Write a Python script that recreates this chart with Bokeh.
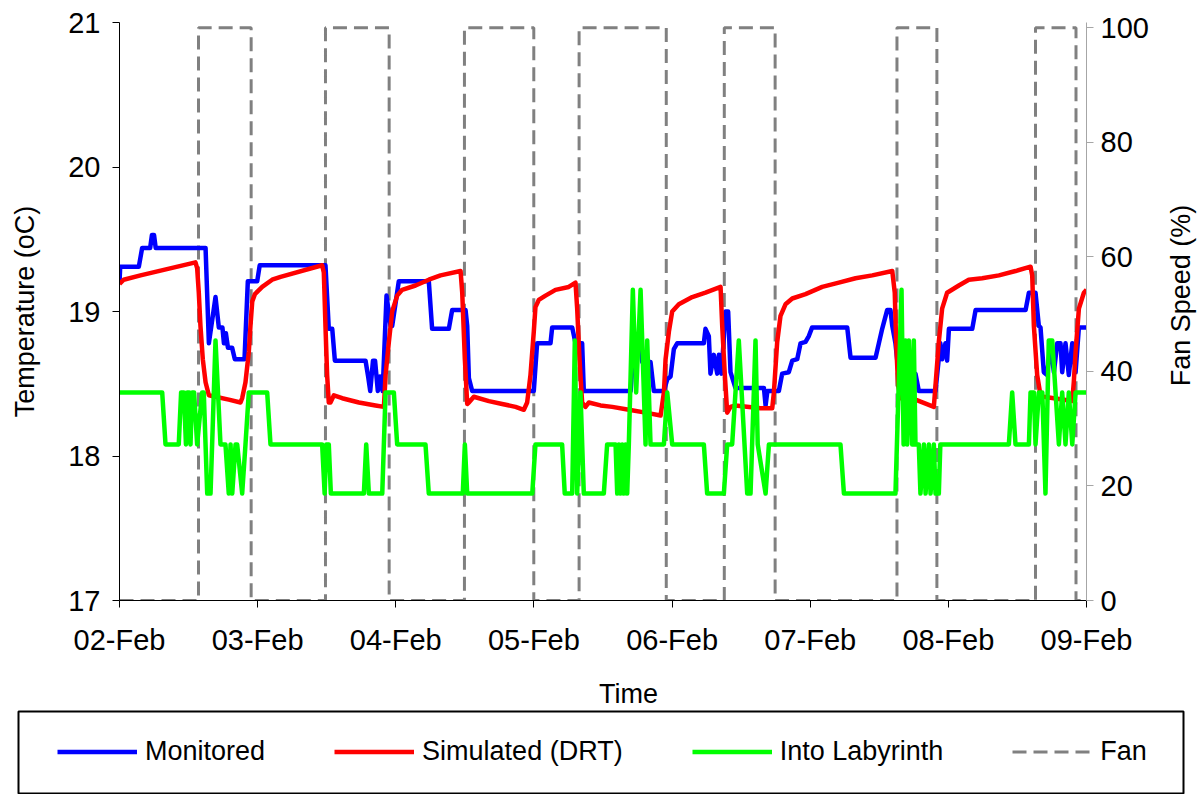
import math
from bokeh.plotting import figure
from bokeh.models import Range1d, LinearAxis, FixedTicker, Legend, LegendItem, Label
from bokeh.layouts import column, row
from bokeh.embed import file_html
from bokeh.resources import INLINE

# ---------------- data (time in days after 02-Feb 00:00) ----------------
day_ticks = [0, 1, 2, 3, 4, 5, 6, 7]
day_labels = ["02-Feb", "03-Feb", "04-Feb", "05-Feb", "06-Feb", "07-Feb", "08-Feb", "09-Feb"]
temp_ticks = [17, 18, 19, 20, 21]
fan_ticks = [0, 20, 40, 60, 80, 100]

monitored = [(0.000, 19.20), (0.005, 19.31), (0.140, 19.31), (0.164, 19.44), (0.222, 19.44), (0.235, 19.53),
             (0.250, 19.53), (0.262, 19.44), (0.623, 19.44), (0.647, 18.78), (0.695, 19.10), (0.719, 18.89),
             (0.745, 18.89), (0.756, 18.78), (0.770, 18.85), (0.785, 18.75), (0.815, 18.75), (0.835, 18.67),
             (0.905, 18.67), (0.929, 19.21), (0.997, 19.21), (1.015, 19.32), (1.491, 19.32), (1.515, 18.88),
             (1.540, 18.88), (1.559, 18.66), (1.781, 18.66), (1.800, 18.55), (1.815, 18.45), (1.835, 18.66),
             (1.850, 18.66), (1.870, 18.45), (1.885, 18.55), (1.905, 18.45), (1.933, 19.11), (1.962, 18.90),
             (1.974, 18.90), (2.022, 19.21), (2.239, 19.21), (2.263, 18.88), (2.384, 18.88), (2.408, 19.01),
             (2.505, 19.01), (2.517, 18.90), (2.529, 18.54), (2.553, 18.45), (2.999, 18.45), (3.023, 18.78),
             (3.120, 18.78), (3.132, 18.89), (3.277, 18.89), (3.301, 18.78), (3.349, 18.78), (3.361, 18.45),
             (3.700, 18.45), (3.716, 18.67), (3.747, 18.79), (3.772, 18.79), (3.784, 18.65), (3.844, 18.65),
             (3.868, 18.45), (3.941, 18.45), (3.965, 18.53), (3.989, 18.55), (4.013, 18.74), (4.037, 18.78),
             (4.230, 18.78), (4.242, 18.88), (4.266, 18.83), (4.278, 18.57), (4.302, 18.70), (4.327, 18.57),
             (4.339, 18.70), (4.358, 18.57), (4.387, 19.00), (4.406, 19.00), (4.423, 18.58), (4.459, 18.47),
             (4.665, 18.47), (4.677, 18.35), (4.690, 18.45), (4.773, 18.45), (4.797, 18.57), (4.845, 18.58),
             (4.870, 18.66), (4.906, 18.67), (4.930, 18.78), (4.966, 18.79), (4.990, 18.83), (5.014, 18.89),
             (5.268, 18.89), (5.292, 18.68), (5.473, 18.68), (5.497, 18.78), (5.521, 18.88), (5.557, 19.01),
             (5.581, 19.01), (5.594, 18.90), (5.617, 18.78), (5.640, 18.57), (5.762, 18.57), (5.786, 18.45),
             (5.907, 18.45), (5.942, 18.78), (5.955, 18.67), (5.979, 18.78), (5.991, 18.66), (6.004, 18.88),
             (6.173, 18.88), (6.197, 19.01), (6.559, 19.01), (6.583, 19.13), (6.631, 19.13), (6.655, 18.90),
             (6.667, 18.89), (6.691, 18.58), (6.715, 18.56), (6.739, 18.78), (6.764, 18.58), (6.788, 18.78),
             (6.812, 18.78), (6.824, 18.58), (6.848, 18.78), (6.872, 18.56), (6.897, 18.78), (6.921, 18.58),
             (6.945, 18.89), (7.000, 18.89)]

simulated = [(0.000, 19.19), (0.030, 19.22), (0.152, 19.25), (0.550, 19.34), (0.562, 19.30), (0.574, 19.13),
             (0.586, 18.90), (0.603, 18.67), (0.623, 18.51), (0.647, 18.42), (0.695, 18.41), (0.791, 18.39),
             (0.876, 18.37), (0.888, 18.40), (0.912, 18.51), (0.936, 18.72), (0.948, 18.90), (0.961, 19.07),
             (0.980, 19.12), (1.033, 19.17), (1.105, 19.22), (1.166, 19.24), (1.467, 19.32), (1.479, 19.27),
             (1.491, 18.90), (1.503, 18.56), (1.515, 18.37), (1.527, 18.37), (1.552, 18.42), (1.612, 18.40),
             (1.733, 18.37), (1.853, 18.35), (1.914, 18.34), (1.926, 18.56), (1.950, 18.79), (1.974, 19.00),
             (2.010, 19.11), (2.046, 19.15), (2.143, 19.18), (2.239, 19.22), (2.324, 19.25), (2.469, 19.28),
             (2.481, 19.13), (2.500, 18.67), (2.517, 18.36), (2.529, 18.37), (2.565, 18.41), (2.674, 18.38),
             (2.770, 18.36), (2.867, 18.34), (2.927, 18.32), (2.951, 18.37), (2.975, 18.56), (2.999, 18.86),
             (3.011, 19.03), (3.035, 19.08), (3.084, 19.11), (3.156, 19.15), (3.252, 19.17), (3.301, 19.20),
             (3.313, 19.02), (3.330, 18.67), (3.349, 18.37), (3.373, 18.34), (3.397, 18.37), (3.482, 18.35),
             (3.567, 18.34), (3.687, 18.32), (3.808, 18.30), (3.917, 18.28), (3.941, 18.44), (3.953, 18.67),
             (3.977, 18.86), (4.001, 19.00), (4.049, 19.05), (4.146, 19.10), (4.242, 19.13), (4.351, 19.17),
             (4.363, 18.90), (4.382, 18.56), (4.399, 18.30), (4.423, 18.34), (4.459, 18.35), (4.640, 18.33),
             (4.725, 18.33), (4.737, 18.44), (4.761, 18.79), (4.785, 18.97), (4.821, 19.05), (4.870, 19.09),
             (4.966, 19.12), (5.087, 19.17), (5.207, 19.20), (5.328, 19.23), (5.449, 19.25), (5.594, 19.28),
             (5.612, 19.13), (5.622, 18.79), (5.636, 18.49), (5.654, 18.40), (5.762, 18.39), (5.895, 18.34),
             (5.907, 18.49), (5.931, 18.79), (5.955, 19.02), (5.991, 19.13), (6.076, 19.18), (6.148, 19.22),
             (6.245, 19.23), (6.366, 19.25), (6.486, 19.28), (6.595, 19.31), (6.607, 19.25), (6.619, 18.90),
             (6.643, 18.56), (6.667, 18.42), (6.691, 18.41), (6.897, 18.38), (6.908, 18.51), (6.921, 18.72),
             (6.945, 19.02), (6.981, 19.13), (7.000, 19.15)]

into_labyrinth = [(0.000, 18.44), (0.309, 18.44), (0.333, 18.08), (0.429, 18.08), (0.446, 18.44), (0.466, 18.44),
                  (0.481, 18.08), (0.490, 18.44), (0.505, 18.44), (0.514, 18.08), (0.526, 18.44), (0.540, 18.44),
                  (0.562, 18.08), (0.598, 18.44), (0.610, 18.44), (0.635, 17.74), (0.659, 17.74), (0.695, 18.80),
                  (0.731, 18.08), (0.767, 18.08), (0.791, 17.74), (0.804, 18.08), (0.816, 17.74), (0.840, 18.08),
                  (0.852, 18.08), (0.888, 17.74), (0.912, 18.08), (0.936, 18.44), (1.069, 18.44), (1.093, 18.08),
                  (1.467, 18.08), (1.485, 17.74), (1.497, 18.08), (1.515, 18.08), (1.530, 17.74), (1.769, 17.74),
                  (1.786, 18.08), (1.805, 17.74), (1.902, 17.74), (1.926, 18.44), (1.986, 18.44), (2.010, 18.08),
                  (2.215, 18.08), (2.239, 17.74), (2.485, 17.74), (2.500, 18.08), (2.517, 17.74), (2.988, 17.74),
                  (3.011, 18.08), (3.204, 18.08), (3.223, 17.74), (3.277, 17.74), (3.296, 18.80), (3.313, 17.74),
                  (3.337, 18.44), (3.361, 17.74), (3.506, 17.74), (3.530, 18.08), (3.591, 18.08), (3.603, 17.74),
                  (3.615, 18.08), (3.627, 17.74), (3.639, 18.08), (3.651, 17.74), (3.663, 18.08), (3.675, 17.74),
                  (3.687, 18.08), (3.716, 19.15), (3.740, 18.44), (3.772, 19.15), (3.808, 18.08), (3.820, 18.80),
                  (3.844, 18.08), (3.941, 18.08), (3.965, 18.44), (4.001, 18.08), (4.230, 18.08), (4.254, 17.74),
                  (4.375, 17.74), (4.399, 18.08), (4.435, 18.08), (4.483, 18.80), (4.544, 17.74), (4.568, 17.74),
                  (4.604, 18.80), (4.620, 18.08), (4.677, 17.74), (4.701, 18.08), (5.219, 18.08), (5.244, 17.74),
                  (5.617, 17.74), (5.661, 19.15), (5.676, 18.08), (5.690, 18.80), (5.702, 18.08), (5.714, 18.80),
                  (5.738, 18.08), (5.750, 18.80), (5.762, 18.08), (5.786, 18.08), (5.798, 17.74), (5.823, 18.08),
                  (5.835, 17.74), (5.859, 18.08), (5.871, 17.74), (5.895, 18.08), (5.907, 17.74), (5.931, 17.74),
                  (5.942, 18.08), (6.438, 18.08), (6.462, 18.44), (6.486, 18.08), (6.583, 18.08), (6.595, 18.44),
                  (6.619, 18.44), (6.631, 18.08), (6.655, 18.44), (6.680, 18.44), (6.703, 17.74), (6.727, 18.80),
                  (6.752, 18.80), (6.776, 18.44), (6.800, 18.08), (6.824, 18.44), (6.848, 18.08), (6.872, 18.44),
                  (6.897, 18.08), (6.921, 18.44), (7.000, 18.44)]

fan_on_times = [0.572, 1.491, 2.497, 3.327, 4.378, 5.628, 6.631]
fan_off_times = [0.953, 1.952, 2.999, 3.958, 4.746, 5.917, 6.924]
fan_on_speed = 100
fan_off_speed = 0

# fan step series built from the switching times
fan_t, fan_v = [0.0], [fan_off_speed]
for on, off in zip(fan_on_times, fan_off_times):
    fan_t += [on, on, off, off]
    fan_v += [fan_off_speed, fan_on_speed, fan_on_speed, fan_off_speed]
fan_t.append(7.0)
fan_v.append(fan_off_speed)

FONT = "Liberation Sans"
BLUE, RED, GREEN, GREY = "#0000FF", "#FF0000", "#00FF00", "#808080"


def blank(fig):
    fig.xgrid.visible = False
    fig.ygrid.visible = False
    fig.outline_line_color = None
    fig.border_fill_color = "white"
    fig.background_fill_color = "white"
    if "frame_align" in fig.properties():
        fig.frame_align = False


# ---------------- main chart ----------------
p = figure(width=1164, height=658, x_range=Range1d(0, 7), y_range=Range1d(17, 21),
           output_backend="svg", toolbar_location=None,
           min_border_left=119, min_border_right=78, min_border_top=22, min_border_bottom=58)
blank(p)
p.extra_y_ranges = {"fan": Range1d(0, 100.9)}

r_fan = p.line(fan_t, fan_v, y_range_name="fan", line_color=GREY, line_width=3, line_dash="14 7")
r_mon = p.line([t for t, _ in monitored], [v for _, v in monitored], line_color=BLUE, line_width=4.5, line_join="round")
r_sim = p.line([t for t, _ in simulated], [v for _, v in simulated], line_color=RED, line_width=4.5, line_join="round")
r_lab = p.line([t for t, _ in into_labyrinth], [v for _, v in into_labyrinth], line_color=GREEN, line_width=4.5, line_join="round")

right = LinearAxis(y_range_name="fan")
p.add_layout(right, "right")

for ax in p.axis:
    ax.major_label_text_font = FONT
    ax.major_label_text_font_size = "29px"
    ax.major_label_text_color = "black"
    ax.axis_label_text_font = FONT
    ax.axis_label_text_font_size = "27px"
    ax.axis_label_text_font_style = "normal"
    ax.axis_label_text_color = "black"
    ax.major_tick_in = 0
    ax.major_tick_out = 7
    ax.minor_tick_line_color = None
    ax.axis_line_color = "black"
    ax.major_tick_line_color = "black"

xa = p.xaxis[0]
xa.ticker = FixedTicker(ticks=day_ticks)
xa.major_label_overrides = {t: l for t, l in zip(day_ticks, day_labels)}
xa.major_label_standoff = 16

ya = p.yaxis[0]
ya.ticker = FixedTicker(ticks=temp_ticks)
ya.axis_label = "Temperature (oC)"
ya.major_label_standoff = 12
ya.axis_label_standoff = 25

right.ticker = FixedTicker(ticks=fan_ticks)
right.major_label_standoff = 7
right.axis_line_color = "#a6a6a6"
right.major_tick_line_color = "#a6a6a6"

# ---------------- strip right of the chart: secondary axis title ----------------
rp = figure(width=33, height=658, x_range=Range1d(0, 1), y_range=Range1d(0, 658),
            output_backend="svg", toolbar_location=None, x_axis_type=None, y_axis_type=None,
            min_border=0)
blank(rp)
rp.add_layout(Label(x=0.5, y=363, text="Fan Speed (%)", angle=math.pi / 2,
                    text_align="center", text_baseline="middle",
                    text_font=FONT, text_font_size="27px", text_color="black"))

# ---------------- strip under the chart: x axis title ----------------
tp = figure(width=1197, height=52, x_range=Range1d(0, 1197), y_range=Range1d(0, 52),
            output_backend="svg", toolbar_location=None, x_axis_type=None, y_axis_type=None,
            min_border=0)
blank(tp)
tp.add_layout(Label(x=628, y=17, text="Time", text_align="center", text_baseline="middle",
                    text_font=FONT, text_font_size="27px", text_color="black"))

# ---------------- legend panel (box under the chart) ----------------
lp = figure(width=1197, height=84, x_range=Range1d(0, 1), y_range=Range1d(0, 1),
            output_backend="svg", toolbar_location=None, x_axis_type=None, y_axis_type=None,
            min_border_left=18, min_border_right=14, min_border_top=1, min_border_bottom=0)
blank(lp)
lp.outline_line_color = "black"
lp.outline_line_width = 2

nan = float("nan")
l_mon = lp.line([0, 1], [nan, nan], line_color=BLUE, line_width=4.5)
l_sim = lp.line([0, 1], [nan, nan], line_color=RED, line_width=4.5)
l_lab = lp.line([0, 1], [nan, nan], line_color=GREEN, line_width=4.5)
l_fan = lp.line([0, 1], [nan, nan], line_color=GREY, line_width=3, line_dash="14 7")

legend = Legend(items=[LegendItem(label="Monitored", renderers=[l_mon]),
                       LegendItem(label="Simulated (DRT)", renderers=[l_sim]),
                       LegendItem(label="Into Labyrinth", renderers=[l_lab]),
                       LegendItem(label="Fan", renderers=[l_fan])],
                orientation="horizontal", location=(39, 27),
                glyph_width=80, glyph_height=31, label_standoff=8, spacing=69,
                padding=0, margin=0, border_line_alpha=0, background_fill_alpha=0,
                label_text_font=FONT, label_text_font_size="27px", label_text_color="black")
lp.add_layout(legend, "center")

layout = column(row(p, rp, spacing=0), tp, lp, spacing=0)
open("out.html", "w").write(file_html(layout, INLINE))
